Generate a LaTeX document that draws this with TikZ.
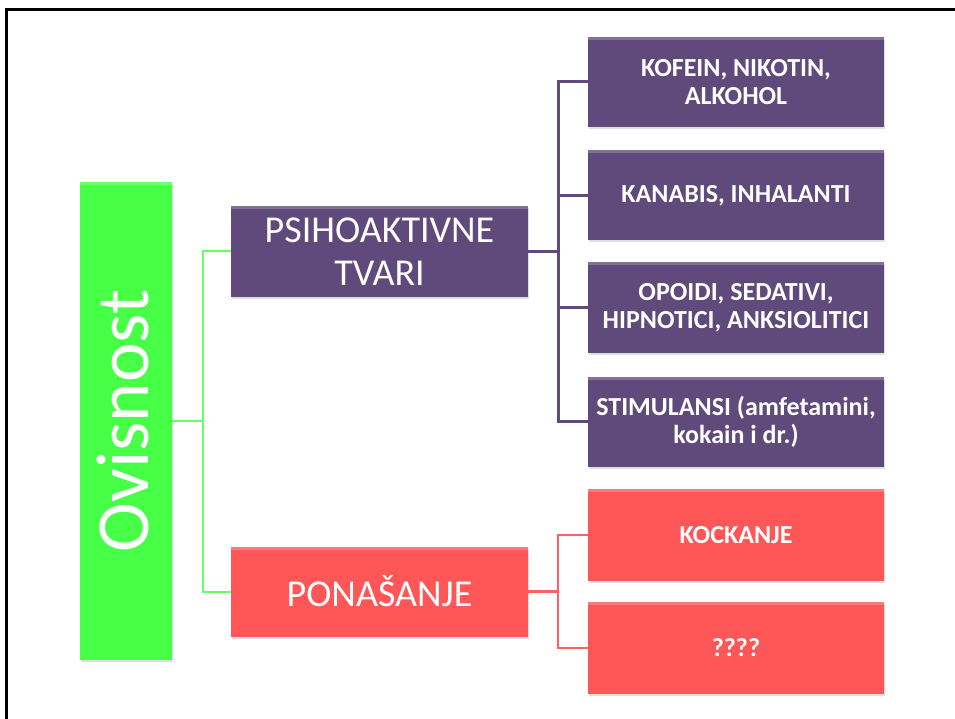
\documentclass[tikz,border=0pt]{standalone}
\usepackage{fontspec}
\setmainfont{Carlito}
\usetikzlibrary{shadows}
\definecolor{purp}{HTML}{604A7B}
\definecolor{redb}{HTML}{FF5757}
\definecolor{grnb}{HTML}{48FF48}
\definecolor{grnl}{HTML}{66FF66}
\definecolor{redl}{HTML}{FF6060}
\begin{document}
\begin{tikzpicture}[x=1pt,y=-1pt,
  box/.style={rectangle, draw=none, text=white, align=center, inner sep=0pt,
    drop shadow={shadow xshift=1pt, shadow yshift=-2pt, opacity=0.25},
    path picture={\fill[white,opacity=0.22] (path picture bounding box.north west) rectangle ([yshift=-3pt]path picture bounding box.north east);}},
  mainbox/.style={box, minimum width=297pt, minimum height=90pt, font=\fontsize{38}{43}\selectfont},
  subbox/.style={box, minimum width=296pt, minimum height=90pt, font=\bfseries\fontsize{26}{28}\selectfont},
  gline/.style={draw=grnl, line width=2pt},
  pline/.style={draw=purp, line width=3pt},
  rline/.style={draw=redl, line width=2.5pt}]
\useasboundingbox (0,0) rectangle (955,719);
\draw[line width=3pt] (6.5,725) -- (6.5,9.5) -- (962,9.5);

% root
\node[box, fill=grnb, minimum width=92pt, minimum height=478pt] (ov) at (126,421) {};
\node[rotate=90, text=white, inner sep=0pt, font=\fontsize{75}{80}\selectfont] (ovt) at (123,421) {Ovisnost};

% level 1
\node[mainbox, fill=purp] (ps) at (379.5,251.5) {PSIHOAKTIVNE\\TVARI};
\node[mainbox, fill=redb] (pn) at (379.5,591.5) {PONAŠANJE};

% level 2 purple
\node[subbox, fill=purp] (k1) at (736,82) {KOFEIN, NIKOTIN,\\ALKOHOL};
\node[subbox, fill=purp] (k2) at (736,195.5) {KANABIS, INHALANTI};
\node[subbox, fill=purp] (k3) at (736,307.5) {OPOIDI, SEDATIVI,\\HIPNOTICI, ANKSIOLITICI};
\node[subbox, fill=purp] (k4) at (736,421.5) {STIMULANSI (amfetamini,\\kokain i dr.)};

% level 2 red
\node[subbox, fill=redb, minimum height=92pt] (r1) at (736,535) {KOCKANJE};
\node[subbox, fill=redb, minimum height=92pt] (r2) at (736,648) {????};

% junctions
\coordinate (gj) at (203,421);
\coordinate (pj) at (558,251.5);
\coordinate (rj) at (558,591.5);

% connectors
\draw[gline] (ov.east) -- (gj);
\draw[gline] (ps.west) -- (ps.west -| gj) -- (pn.west -| gj) -- (pn.west);

\draw[pline] (ps.east) -- (pj);
\draw[pline] (k1.west) -- (k1.west -| pj) -- (k4.west -| pj) -- (k4.west);
\draw[pline] (k2.west) -- (k2.west -| pj);
\draw[pline] (k3.west) -- (k3.west -| pj);

\draw[rline] (pn.east) -- (rj);
\draw[rline] (r1.west) -- (r1.west -| rj) -- (r2.west -| rj) -- (r2.west);
\end{tikzpicture}
\end{document}
